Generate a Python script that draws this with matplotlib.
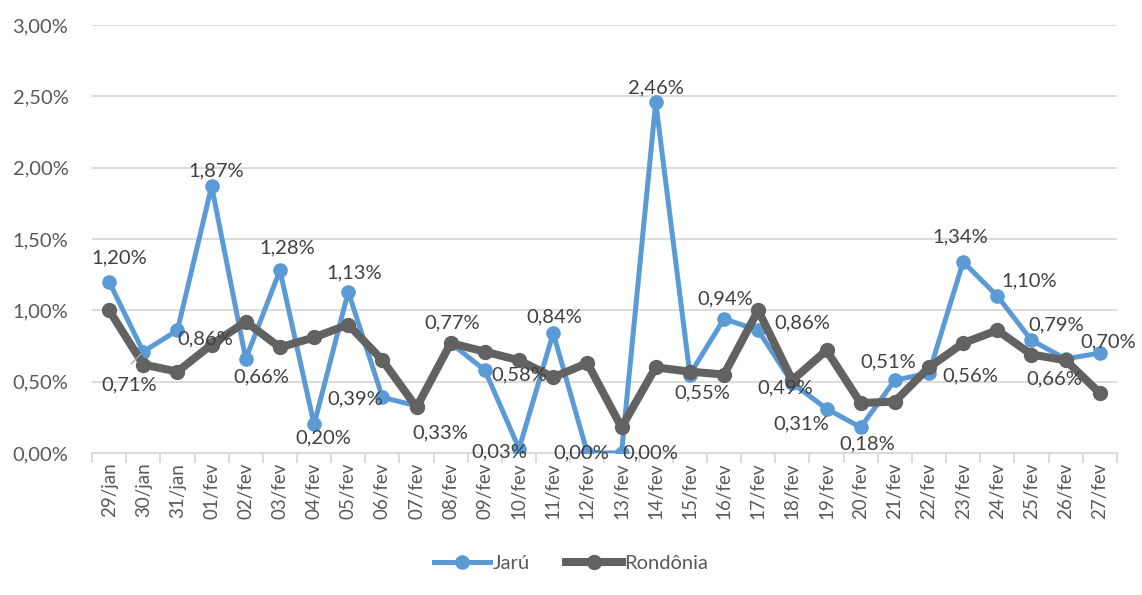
import matplotlib.pyplot as plt
from matplotlib.ticker import FuncFormatter

plt.rcParams["font.family"] = ["Lato", "DejaVu Sans"]

DATES = [
    "29/jan", "30/jan", "31/jan", "01/fev", "02/fev", "03/fev", "04/fev", "05/fev",
    "06/fev", "07/fev", "08/fev", "09/fev", "10/fev", "11/fev", "12/fev", "13/fev",
    "14/fev", "15/fev", "16/fev", "17/fev", "18/fev", "19/fev", "20/fev", "21/fev",
    "22/fev", "23/fev", "24/fev", "25/fev", "26/fev", "27/fev",
]
JARU = [
    1.20, 0.71, 0.86, 1.87, 0.66, 1.28, 0.20, 1.13, 0.39, 0.33,
    0.77, 0.58, 0.03, 0.84, 0.00, 0.00, 2.46, 0.55, 0.94, 0.86,
    0.49, 0.31, 0.18, 0.51, 0.56, 1.34, 1.10, 0.79, 0.66, 0.70,
]
RONDONIA = [
    1.00, 0.62, 0.57, 0.76, 0.92, 0.74, 0.81, 0.90, 0.65, 0.32,
    0.77, 0.71, 0.65, 0.53, 0.63, 0.18, 0.60, 0.57, 0.55, 1.00,
    0.51, 0.72, 0.35, 0.36, 0.60, 0.77, 0.86, 0.69, 0.65, 0.42,
]

# label offsets in pixels (dx right, dy up), mimicking Excel's placement
LABEL_OFFSETS = [
    (10, 24), (-14, -33), (28, -9), (5, 15), (16, -18), (7, 22), (9, -13), (6, 19),
    (-27, -2), (24, -27), (1, 20), (34, -5), (-20, -3), (1, 16), (-6, 0), (29, 0),
    (0, 14), (12, -18), (1, 20), (44, 7), (-7, -5), (-25, -15), (7, -17), (-7, 18),
    (41, -3), (-3, 25), (32, 15), (25, 15), (-11, -20), (8, 11),
]

BLUE = "#5B9BD5"
GRAY = "#626262"
TEXT = "#404040"
TICK = "#595959"
GRID = "#D9D9D9"

fig = plt.figure(figsize=(11.42, 5.95), dpi=100)
ax = fig.add_axes([0.0806, 0.2387, 0.8974, 0.7193])

x = list(range(len(DATES)))
ax.plot(x, JARU, color=BLUE, lw=3.6, marker="o", ms=9.5, label="Jarú", zorder=3,
        solid_joinstyle="round")
ax.plot(x, RONDONIA, color=GRAY, lw=5.8, marker="o", ms=10, label="Rondônia", zorder=4,
        solid_joinstyle="round")

for i, (v, (dx, dy)) in enumerate(zip(JARU, LABEL_OFFSETS)):
    txt = f"{v:.2f}%".replace(".", ",")
    ax.annotate(txt, (i, v), xytext=(dx, dy), textcoords="offset pixels",
                ha="center", va="center", fontsize=14.5, color=TEXT, zorder=5)

# leader line for 30/jan label
ax.annotate("", (1, JARU[1]), xytext=(-14, -14), textcoords="offset pixels",
            arrowprops=dict(arrowstyle="-", color="#A6A6A6", lw=1), zorder=5)

ax.set_xlim(-0.5, len(DATES) - 0.5)
ax.set_ylim(0, 3.0)
ax.set_yticks([0, 0.5, 1.0, 1.5, 2.0, 2.5, 3.0])
ax.yaxis.set_major_formatter(FuncFormatter(lambda v, _: f"{v:.2f}%".replace(".", ",")))
ax.set_xticks(x)
ax.set_xticklabels(DATES, rotation=90)
ax.set_xticks([i - 0.5 for i in range(len(DATES) + 1)], minor=True)

ax.grid(axis="y", color=GRID, lw=1.3)
ax.set_axisbelow(True)
for side in ("top", "right", "left"):
    ax.spines[side].set_visible(False)
ax.spines["bottom"].set_color(GRID)
ax.spines["bottom"].set_linewidth(1.3)

ax.tick_params(axis="y", length=0, labelsize=14.5, labelcolor=TICK, pad=17)
ax.tick_params(axis="x", which="major", length=0, labelsize=13.5, labelcolor=TICK, pad=7)
ax.tick_params(axis="x", which="minor", length=7, color=GRID, width=1.3)

leg = fig.legend(loc="center", bbox_to_anchor=(0.5, 1 - 563 / 595), ncol=2, frameon=False,
                 fontsize=14.5, handlelength=2.8, columnspacing=1.8, handletextpad=0.1)
for t in leg.get_texts():
    t.set_color(TICK)

fig.savefig("out.png", dpi=100, facecolor="white")
